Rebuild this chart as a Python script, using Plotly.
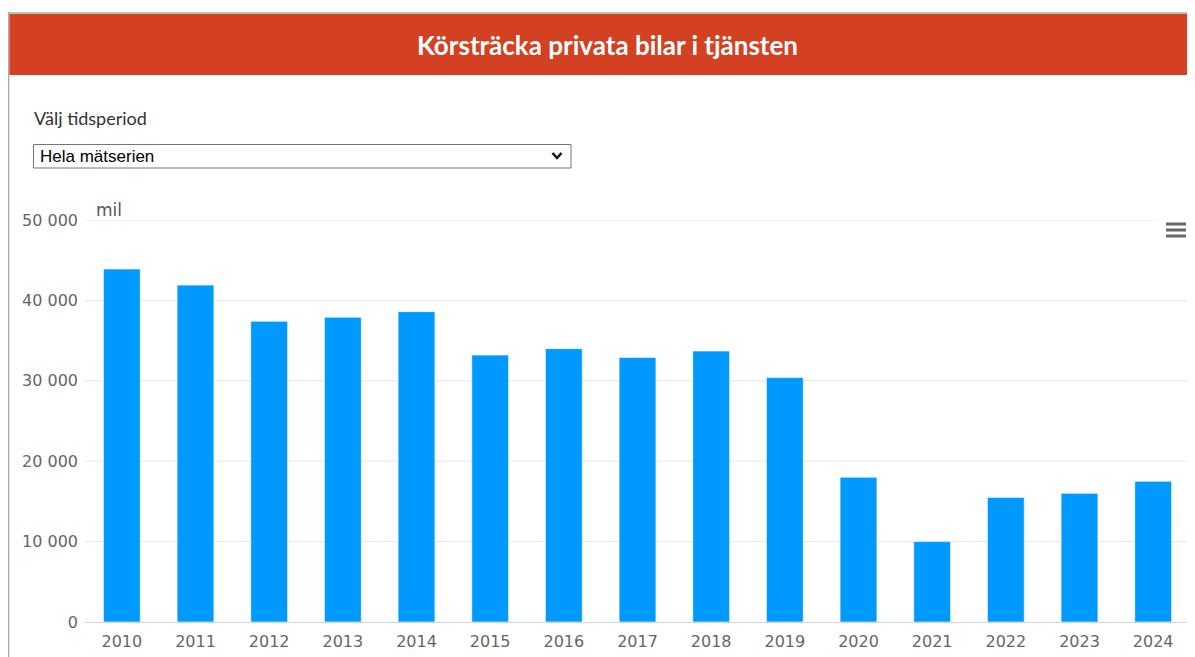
import plotly.graph_objects as go

years = ["2010", "2011", "2012", "2013", "2014", "2015", "2016", "2017",
         "2018", "2019", "2020", "2021", "2022", "2023", "2024"]
km_mil = [43900, 41900, 37400, 37900, 38600, 33200, 34000, 32900,
          33700, 30400, 18000, 10000, 15500, 16000, 17500]
y_ticks = [0, 10000, 20000, 30000, 40000, 50000]
y_ticktext = ["0", "10 000", "20 000", "30 000", "40 000", "50 000"]

title_text = "Körsträcka privata bilar i tjänsten"
select_label = "Välj tidsperiod"
select_value = "Hela mätserien"
unit_label = "mil"

OFF = 8  # page body margin
W, H = 1195 - OFF, 657 - OFF
L, R, T, B = 85 - OFF, 5, 220 - OFF, 35
PW = W - L - R
PH = H - T - B


def px(x):
    return (x - OFF - L) / PW


def py(y):
    return (H - B - (y - OFF)) / PH


fig = go.Figure()
fig.add_trace(go.Bar(
    x=years, y=km_mil,
    marker=dict(color="#0099ff", line=dict(color="rgba(255,255,255,0.6)", width=1)),
    hoverinfo="x+y",
))

shapes = []
# gridlines
for v in y_ticks[1:]:
    shapes.append(dict(type="line", xref="paper", yref="y", layer="below",
                       x0=0, x1=1, y0=v, y1=v,
                       line=dict(color="#e6e6e6", width=1)))
# outer frame lines
shapes.append(dict(type="line", xref="paper", yref="paper",
                   x0=px(8.6), x1=px(8.6), y0=py(12), y1=py(H + 20),
                   line=dict(color="#a9a9a9", width=1.5)))
shapes.append(dict(type="line", xref="paper", yref="paper",
                   x0=px(8), x1=px(W + 20), y0=py(13), y1=py(13),
                   line=dict(color="#a9a9a9", width=1.5)))
# red header
shapes.append(dict(type="rect", xref="paper", yref="paper",
                   x0=px(9.4), x1=px(W + 20), y0=py(14), y1=py(75),
                   fillcolor="#d44022", line=dict(width=0)))
# select box
shapes.append(dict(type="rect", xref="paper", yref="paper",
                   x0=px(33.5), x1=px(571), y0=py(144.5), y1=py(168),
                   fillcolor="white", line=dict(color="#767676", width=1)))
# chevron
shapes.append(dict(type="path", xref="paper", yref="paper",
                   path="M {} {} L {} {} L {} {}".format(px(552.5), py(153), px(557), py(158), px(561.5), py(153)),
                   line=dict(color="#111111", width=2.5)))
# mask end of top gridline near menu button
shapes.append(dict(type="rect", xref="paper", yref="paper",
                   x0=px(1158), x1=px(W + 20), y0=py(217), y1=py(224),
                   fillcolor="white", line=dict(width=0)))
# hamburger
for yy in (224, 230, 236):
    shapes.append(dict(type="line", xref="paper", yref="paper",
                       x0=px(1166), x1=px(1186), y0=py(yy), y1=py(yy),
                       line=dict(color="#666666", width=3)))

annotations = [
    dict(text="<b>" + title_text + "</b>", xref="paper", yref="paper",
         x=px(607), y=py(45), xanchor="center", yanchor="middle", showarrow=False,
         font=dict(family="Lato", size=26, color="white")),
    dict(text=select_label, xref="paper", yref="paper",
         x=px(32), y=py(118), xanchor="left", yanchor="middle", showarrow=False,
         font=dict(family="Lato", size=18, color="#333333")),
    dict(text=select_value, xref="paper", yref="paper",
         x=px(38), y=py(156.5), xanchor="left", yanchor="middle", showarrow=False,
         font=dict(family="Liberation Sans", size=17, color="#000000")),
    dict(text=unit_label, xref="paper", yref="paper",
         x=px(94), y=py(210), xanchor="left", yanchor="middle", showarrow=False,
         font=dict(family="DejaVu Sans", size=17, color="#555555")),
]

fig.update_layout(
    width=W, height=H,
    margin=dict(l=L, r=R, t=T, b=B, pad=0),
    paper_bgcolor="white", plot_bgcolor="white",
    bargap=0.5,
    showlegend=False,
    shapes=shapes,
    annotations=annotations,
    font=dict(family="DejaVu Sans", size=16, color="#666666"),
    xaxis=dict(type="category", showline=True, linecolor="#ccd6eb", linewidth=1,
               showgrid=False, ticks="", tickfont=dict(size=16, color="#666666"),
               ticklabelstandoff=5, fixedrange=True),
    yaxis=dict(range=[0, 50000], tickvals=y_ticks, ticktext=y_ticktext,
               showgrid=False, zeroline=False,
               ticks="", tickfont=dict(size=16, color="#666666"),
               ticklabelstandoff=6, fixedrange=True),
)

fig.write_html("out.html", config={"displayModeBar": False})
